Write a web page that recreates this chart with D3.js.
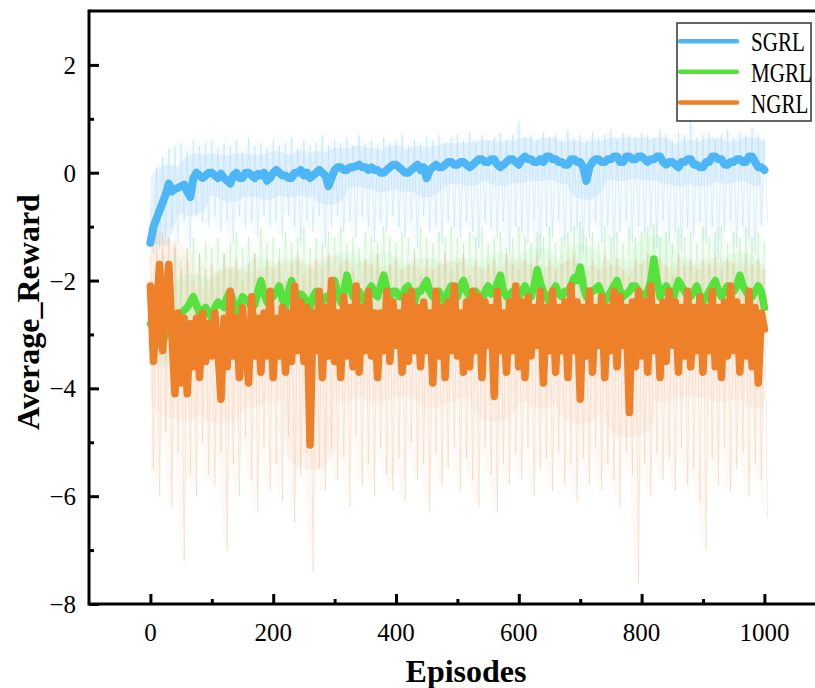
<!DOCTYPE html>
<html><head><meta charset="utf-8">
<script src="https://cdn.jsdelivr.net/npm/d3@7"></script>
<style>body{margin:0;background:#fff}</style>
</head><body>
<svg id="c" width="815" height="688"></svg>
<script>
const seriesNames = ["SGRL", "MGRL", "NGRL"];
const seriesColors = ["#4db6f6", "#55e23c", "#ee8029"];
const faintColors = ["#8fcdf3", "#8ee88a", "#eeae80"];
const smoothStep = 5;
const rawStep = 10;
const xTicks = [0, 200, 400, 600, 800, 1000];
const yTicks = [-8, -6, -4, -2, 0, 2];

// smoothed (thick) curves, one value every 5 episodes
const sgrl = [-1.3,-1.0,-0.85,-0.7,-0.55,-0.4,-0.2,-0.35,-0.3,-0.28,
  -0.25,-0.22,-0.35,-0.45,-0.1,0.0,-0.05,-0.1,-0.05,0.0,
  0.0,-0.05,-0.1,-0.02,-0.1,-0.15,-0.2,-0.05,0.0,-0.1,
  -0.1,0.0,0.0,-0.05,-0.1,-0.02,-0.05,0.0,-0.15,-0.1,
  0.0,0.05,0.0,-0.05,-0.05,-0.1,-0.1,0.0,0.0,0.05,
  -0.05,0.0,-0.1,-0.05,0.0,0.05,0.0,-0.05,-0.25,-0.1,
  0.05,0.1,0.1,0.05,0.05,0.1,0.1,0.12,0.15,0.1,
  0.1,0.05,0.1,0.05,0.05,0.0,0.0,0.05,0.1,0.15,
  0.15,0.1,0.05,0.0,0.0,0.05,0.1,0.15,0.05,0.1,
  -0.1,0.05,0.1,0.15,0.1,0.1,0.15,0.2,0.2,0.15,
  0.15,0.2,0.2,0.15,0.1,0.15,0.2,0.25,0.25,0.2,
  0.2,0.25,0.25,0.15,0.1,0.15,0.2,0.25,0.25,0.2,
  0.15,0.25,0.3,0.25,0.25,0.2,0.2,0.25,0.2,0.3,
  0.3,0.25,0.25,0.2,0.2,0.15,0.15,0.25,0.25,0.2,
  0.2,0.1,-0.15,0.1,0.2,0.25,0.25,0.2,0.2,0.25,
  0.25,0.3,0.3,0.2,0.2,0.3,0.3,0.25,0.25,0.3,
  0.3,0.25,0.2,0.25,0.25,0.3,0.3,0.2,0.15,0.2,
  0.2,0.15,0.1,0.2,0.2,0.25,0.25,0.15,0.15,0.1,
  0.1,0.2,0.2,0.3,0.3,0.25,0.25,0.15,0.15,0.2,
  0.2,0.25,0.25,0.2,0.2,0.3,0.3,0.2,0.1,0.1,
  0.05];
const mgrl = [-2.8,-2.9,-3.1,-3.2,-3.15,-3.0,-2.9,-2.8,-2.7,-2.65,
  -2.6,-2.55,-2.5,-2.4,-2.3,-2.45,-2.6,-2.55,-2.5,-2.6,
  -2.7,-2.5,-2.4,-2.45,-2.5,-2.3,-2.2,-2.4,-2.6,-2.45,
  -2.3,-2.35,-2.4,-2.5,-2.45,-2.2,-2.0,-2.25,-2.4,-2.3,
  -2.3,-2.2,-2.1,-2.35,-2.5,-2.2,-2.0,-2.3,-2.4,-2.25,
  -2.3,-2.4,-2.5,-2.3,-2.2,-2.35,-2.4,-2.3,-2.3,-2.2,
  -2.0,-2.25,-2.4,-2.2,-1.9,-2.15,-2.3,-2.2,-2.2,-2.35,
  -2.4,-2.2,-2.1,-2.25,-2.3,-2.1,-1.9,-2.15,-2.3,-2.2,
  -2.2,-2.3,-2.3,-2.15,-2.1,-2.3,-2.4,-2.2,-2.2,-2.1,
  -2.0,-2.2,-2.3,-2.25,-2.2,-2.35,-2.4,-2.2,-2.1,-2.25,
  -2.3,-2.1,-2.0,-2.2,-2.3,-2.25,-2.2,-2.3,-2.4,-2.2,
  -2.1,-2.25,-2.2,-2.05,-1.9,-2.2,-2.3,-2.25,-2.2,-2.3,
  -2.3,-2.2,-2.1,-2.25,-2.3,-2.1,-1.8,-2.05,-2.2,-2.3,
  -2.4,-2.2,-2.1,-2.25,-2.3,-2.2,-2.2,-2.1,-1.95,-2.0,
  -1.75,-2.1,-2.3,-2.2,-2.2,-2.15,-2.1,-2.25,-2.4,-2.3,
  -2.2,-2.1,-2.0,-2.2,-2.3,-2.25,-2.2,-2.1,-2.1,-2.2,
  -2.3,-2.25,-2.2,-2.0,-1.6,-2.0,-2.3,-2.2,-2.1,-2.2,
  -2.4,-2.2,-2.0,-2.1,-2.2,-2.3,-2.3,-2.2,-2.1,-2.3,
  -2.4,-2.3,-2.2,-2.1,-2.0,-2.2,-2.3,-2.2,-2.1,-2.15,
  -2.2,-2.1,-1.9,-2.1,-2.2,-2.3,-2.3,-2.2,-2.1,-2.2,
  -2.5];
const ngrl = [-2.1,-3.5,-2.5,-1.7,-3.3,-2.3,-1.7,-3.0,-4.1,-2.6,
  -3.9,-2.7,-4.1,-2.8,-3.6,-2.7,-3.8,-2.6,-3.5,-2.8,
  -3.4,-2.6,-3.3,-4.2,-2.7,-3.6,-2.2,-3.4,-2.7,-3.8,
  -2.5,-3.3,-3.9,-2.3,-3.4,-2.7,-3.7,-2.6,-3.4,-2.2,
  -3.8,-2.7,-3.4,-2.5,-3.7,-2.6,-3.5,-2.1,-3.3,-2.4,
  -3.5,-2.5,-5.05,-2.6,-3.3,-2.2,-3.8,-2.5,-3.4,-2.0,
  -3.5,-2.6,-3.8,-2.3,-3.4,-2.5,-3.6,-2.1,-3.7,-2.5,
  -3.3,-2.2,-3.4,-2.6,-3.8,-2.6,-3.3,-2.2,-3.5,-2.4,
  -3.2,-2.6,-3.7,-2.3,-3.5,-2.2,-3.3,-2.5,-3.6,-2.4,
  -3.3,-2.6,-3.9,-2.2,-3.4,-2.5,-3.8,-2.4,-3.3,-2.1,
  -3.4,-2.6,-3.7,-2.4,-3.6,-2.2,-3.3,-2.3,-3.8,-2.4,
  -3.2,-2.5,-4.15,-2.2,-3.3,-2.6,-3.7,-2.4,-3.3,-2.1,
  -3.6,-2.4,-3.8,-2.3,-3.4,-2.5,-3.2,-2.2,-3.9,-2.5,
  -3.3,-2.2,-3.7,-2.5,-3.3,-2.4,-3.8,-2.1,-3.3,-2.4,
  -4.2,-2.5,-3.4,-2.2,-3.7,-2.5,-3.2,-2.3,-3.8,-2.5,
  -3.3,-2.2,-3.6,-2.3,-3.2,-2.5,-4.45,-2.4,-3.6,-2.2,
  -3.4,-2.4,-3.7,-2.1,-3.3,-2.5,-3.8,-2.4,-3.5,-2.2,
  -3.2,-2.4,-3.7,-2.5,-3.4,-2.2,-3.6,-2.5,-3.3,-2.3,
  -3.7,-2.5,-3.3,-2.2,-3.6,-2.5,-3.8,-2.4,-3.4,-2.1,
  -3.3,-2.4,-3.7,-2.5,-3.4,-2.2,-3.6,-2.5,-3.9,-2.6,
  -2.9];

// raw episode spread (faint), upper and lower value every 10 episodes
const sgrlHi = [-0.7,0.1,0.3,0.45,0.5,0.55,0.4,0.6,0.5,0.55,
  0.6,0.45,0.55,0.5,0.6,0.4,0.65,0.5,0.55,0.45,
  0.6,0.5,0.55,0.65,0.45,0.6,0.5,0.55,0.7,0.5,
  0.6,0.55,0.65,0.5,0.7,0.55,0.6,0.5,0.65,0.55,
  0.6,0.7,0.5,0.6,0.55,0.65,0.6,0.7,0.55,0.65,
  0.7,0.6,0.75,0.55,0.7,0.6,0.65,0.75,0.6,0.7,
  0.95,0.65,0.7,0.6,0.75,0.65,0.7,0.6,0.8,0.65,
  0.7,0.6,0.75,0.65,0.7,0.8,0.6,0.75,0.7,0.65,
  0.75,0.7,0.65,0.8,0.7,0.6,0.75,0.7,0.95,0.65,
  0.7,0.75,0.6,0.7,0.8,0.65,0.75,0.7,0.85,0.7,0.6];
const sgrlLo = [-1.5,-1.4,-1.2,-1.0,-1.3,-0.9,-1.4,-0.8,-0.9,-1.0,
  -0.8,-1.1,-0.9,-1.3,-0.8,-1.0,-0.9,-1.2,-0.8,-1.0,
  -0.9,-1.2,-0.8,-1.0,-1.3,-0.9,-1.1,-0.8,-1.4,-1.0,
  -0.8,-1.1,-0.9,-1.2,-0.8,-1.0,-1.3,-0.9,-1.1,-0.8,
  -1.0,-1.2,-0.9,-1.4,-0.8,-1.1,-1.0,-1.3,-0.9,-1.0,
  -1.2,-0.9,-1.1,-1.4,-0.9,-1.0,-1.2,-0.9,-1.5,-1.0,
  -1.1,-1.3,-0.9,-1.6,-1.0,-1.2,-0.9,-1.4,-1.1,-1.0,
  -1.5,-1.2,-0.9,-1.3,-1.0,-1.6,-1.1,-0.9,-1.3,-1.0,
  -1.2,-1.0,-1.4,-0.9,-1.3,-1.1,-1.5,-1.0,-1.2,-0.9,
  -1.3,-1.0,-1.6,-1.1,-0.9,-1.4,-1.0,-1.2,-1.5,-1.0,-0.9];
const mgrlHi = [-2.6,-1.8,-1.5,-1.7,-1.3,-1.6,-1.4,-1.2,-1.5,-1.3,
  -1.4,-1.2,-1.5,-1.3,-1.1,-1.4,-1.2,-1.5,-1.0,-1.3,
  -1.2,-1.4,-1.1,-1.3,-1.2,-1.0,-1.4,-1.2,-1.3,-1.1,
  -1.2,-1.0,-1.3,-1.2,-1.4,-1.1,-1.2,-1.3,-1.0,-1.2,
  -1.3,-1.1,-1.2,-1.4,-1.0,-1.2,-1.3,-1.1,-1.2,-1.0,
  -1.2,-1.3,-1.1,-1.2,-1.0,-1.3,-1.2,-1.1,-1.4,-1.2,
  -1.0,-1.2,-1.3,-1.1,-1.2,-1.0,-1.3,-1.2,-1.1,-1.0,
  -0.9,-1.2,-1.1,-1.3,-1.0,-1.2,-1.1,-1.3,-1.0,-1.2,
  -1.1,-1.0,-0.95,-1.2,-1.1,-1.3,-1.0,-1.2,-1.1,-1.3,
  -1.0,-1.2,-1.1,-1.0,-1.3,-1.1,-1.2,-1.0,-1.2,-1.1,-1.3];
const mgrlLo = [-3.3,-3.4,-3.5,-3.2,-3.1,-3.3,-3.0,-2.9,-3.1,-3.0,
  -3.2,-2.9,-3.1,-2.8,-3.0,-3.2,-2.9,-3.0,-2.8,-3.1,
  -3.0,-2.8,-3.2,-2.9,-3.0,-3.1,-2.8,-3.0,-3.2,-2.9,
  -2.8,-3.1,-2.9,-3.0,-3.2,-2.8,-3.0,-2.9,-3.1,-2.8,
  -3.0,-3.2,-2.9,-2.8,-3.1,-3.0,-2.9,-3.2,-2.8,-3.0,
  -2.9,-3.1,-2.8,-3.0,-3.2,-2.9,-3.0,-2.8,-3.1,-2.9,
  -3.0,-2.8,-3.2,-2.9,-3.0,-3.1,-2.8,-3.0,-2.9,-3.2,
  -2.8,-3.0,-3.1,-2.9,-3.0,-2.8,-3.2,-2.9,-3.0,-3.1,
  -2.9,-3.0,-2.8,-3.2,-2.9,-3.0,-3.1,-2.8,-3.0,-2.9,
  -3.1,-2.8,-3.0,-3.2,-2.9,-3.0,-2.8,-3.1,-2.9,-3.0,-3.2];
const ngrlHi = [-1.5,-1.0,-1.1,-1.2,-1.4,-1.8,-1.6,-2.0,-1.5,-1.8,
  -1.7,-1.9,-1.5,-1.8,-1.6,-2.0,-1.7,-1.5,-1.9,-1.6,
  -1.8,-1.6,-2.0,-1.7,-1.5,-1.9,-1.7,-1.6,-1.8,-1.5,
  -1.9,-1.7,-1.6,-1.8,-2.0,-1.6,-1.7,-1.5,-1.9,-1.7,
  -1.6,-1.8,-1.7,-1.5,-1.9,-1.6,-1.8,-1.7,-1.5,-1.8,
  -1.7,-1.5,-1.9,-1.6,-1.8,-1.7,-1.6,-1.9,-1.5,-1.7,
  -1.8,-1.6,-1.7,-1.5,-1.9,-1.6,-1.8,-1.7,-1.6,-1.5,
  -1.7,-1.9,-1.6,-1.8,-1.5,-1.7,-1.6,-1.8,-1.9,-1.6,
  -1.7,-1.5,-1.8,-1.6,-1.7,-1.9,-1.5,-1.7,-1.6,-1.8,
  -1.6,-1.7,-1.5,-1.8,-1.6,-1.7,-1.9,-1.5,-1.7,-1.6,-1.8];
const ngrlLo = [-5.5,-6.0,-4.8,-6.2,-5.2,-7.2,-5.6,-6.0,-5.0,-5.6,
  -5.8,-5.2,-7.0,-5.4,-6.0,-4.9,-5.7,-6.3,-5.1,-5.9,
  -5.4,-6.1,-4.9,-6.5,-5.6,-5.2,-7.4,-5.5,-5.9,-5.1,
  -5.7,-5.3,-6.2,-4.9,-5.8,-5.4,-6.0,-5.1,-5.6,-5.9,
  -5.3,-6.1,-5.0,-5.7,-5.4,-6.3,-5.2,-5.8,-5.5,-5.1,
  -5.9,-5.3,-5.7,-6.2,-5.1,-5.6,-6.3,-5.4,-5.8,-5.2,
  -5.7,-5.1,-6.0,-5.5,-5.3,-5.9,-5.2,-5.8,-5.4,-6.1,
  -5.3,-5.8,-5.1,-5.9,-5.4,-5.7,-6.2,-5.2,-5.6,-7.6,
  -5.4,-6.0,-5.2,-5.7,-5.3,-5.9,-5.1,-5.8,-5.5,-6.1,
  -7.0,-5.3,-5.8,-5.1,-5.9,-5.5,-5.2,-6.0,-5.4,-5.7,-6.4];

const smooth = [sgrl, mgrl, ngrl];
const rawHi = [sgrlHi, mgrlHi, ngrlHi];
const rawLo = [sgrlLo, mgrlLo, ngrlLo];

const svg = d3.select("#c");
const x = d3.scaleLinear().domain([-100, 1100]).range([89, 825.8]);
const y = d3.scaleLinear().domain([-8, 3]).range([604, 11]);
const serif = "'Liberation Serif','Times New Roman',serif";
const smoothLine = d3.line().x((d, i) => x(i * smoothStep)).y(d => y(d));

svg.append("defs").append("clipPath").attr("id", "clipData").append("rect")
  .attr("x", x(0)).attr("y", y(3)).attr("width", x(1000) - x(0)).attr("height", y(-8) - y(3));

const plot = svg.append("g");
const haze = plot.append("g").attr("clip-path", "url(#clipData)");
// faint raw spread
const coreWidth = [38, 46, 50], coreOpacity = [0.2, 0.13, 0.1];
[0, 1, 2].forEach(s => {
  const pts = [];
  rawHi[s].forEach((v, i) => {
    pts.push([i * rawStep, v]);
    pts.push([i * rawStep + rawStep / 2, rawLo[s][i]]);
  });
  const area = d3.area().x((d, i) => x(i * rawStep)).y0((d, i) => y(rawLo[s][i])).y1(d => y(d));
  haze.append("path").attr("d", area(rawHi[s])).attr("fill", faintColors[s]).attr("opacity", 0.08);
  haze.append("path").attr("d", smoothLine(smooth[s])).attr("fill", "none")
    .attr("stroke", faintColors[s]).attr("stroke-width", coreWidth[s]).attr("opacity", coreOpacity[s])
    .attr("stroke-linejoin", "round");
  plot.append("path").attr("d", d3.line().x(d => x(d[0])).y(d => y(d[1]))(pts))
    .attr("fill", "none").attr("stroke", faintColors[s]).attr("stroke-width", 0.8).attr("opacity", 0.35);
});
// thick smoothed lines
const thick = [8, 7.5, 7.5];
[0, 1, 2].forEach(s => {
  plot.append("path").attr("d", smoothLine(smooth[s])).attr("fill", "none")
    .attr("stroke", seriesColors[s]).attr("stroke-width", thick[s])
    .attr("stroke-linejoin", "round").attr("stroke-linecap", "round");
});

// frame
const fr = svg.append("g").attr("stroke", "#000").attr("stroke-width", 3).attr("fill", "none");
fr.append("line").attr("x1", x(-100)).attr("x2", 830).attr("y1", y(3)).attr("y2", y(3));
fr.append("line").attr("x1", x(-100)).attr("x2", 830).attr("y1", y(-8)).attr("y2", y(-8));
fr.append("line").attr("x1", x(-100)).attr("x2", x(-100)).attr("y1", y(3) - 1.5).attr("y2", y(-8) + 1.5);

// x axis
const xAxis = d3.axisTop(x).tickValues(xTicks).tickSize(10).tickFormat("");
const xMinor = d3.axisTop(x).tickValues([100, 300, 500, 700, 900]).tickSize(5).tickFormat("");
[xAxis, xMinor].forEach(a => {
  const g = svg.append("g").attr("transform", `translate(0,${y(-8)})`).call(a);
  g.select(".domain").remove();
  g.selectAll("line").attr("stroke", "#000").attr("stroke-width", 3);
});
svg.append("g").selectAll("text").data(xTicks).join("text")
  .attr("x", d => x(d)).attr("y", 641).attr("text-anchor", "middle")
  .attr("font-family", serif).attr("font-size", 25).text(d => d);

// y axis
const yAxis = d3.axisRight(y).tickValues(yTicks).tickSize(10).tickFormat("");
const yMinor = d3.axisRight(y).tickValues([-7, -5, -3, -1, 1]).tickSize(5).tickFormat("");
[yAxis, yMinor].forEach(a => {
  const g = svg.append("g").attr("transform", `translate(${x(-100)},0)`).call(a);
  g.select(".domain").remove();
  g.selectAll("line").attr("stroke", "#000").attr("stroke-width", 3);
});
svg.append("g").selectAll("text").data(yTicks).join("text")
  .attr("x", 76).attr("y", d => y(d) + 9).attr("text-anchor", "end")
  .attr("font-family", serif).attr("font-size", 25)
  .text(d => d < 0 ? "\u2212" + Math.abs(d) : d);

// titles
svg.append("text").attr("x", 466).attr("y", 682).attr("text-anchor", "middle")
  .attr("font-family", serif).attr("font-weight", "bold").attr("font-size", 32).text("Episodes");
svg.append("text").attr("transform", "translate(39,312) rotate(-90)").attr("text-anchor", "middle")
  .attr("font-family", serif).attr("font-weight", "bold").attr("font-size", 32).text("Average_Reward");

// legend
const lg = svg.append("g");
lg.append("rect").attr("x", 677).attr("y", 23).attr("width", 134).attr("height", 98)
  .attr("fill", "#fff").attr("stroke", "#333").attr("stroke-width", 1.5);
const ly = [41.3, 71.7, 102.5];
seriesNames.forEach((n, i) => {
  lg.append("line").attr("x1", 680).attr("x2", 737).attr("y1", ly[i]).attr("y2", ly[i])
    .attr("stroke", seriesColors[i]).attr("stroke-width", 4.5).attr("stroke-linecap", "round");
  lg.append("text").attr("transform", `translate(751,${ly[i] + 10}) scale(0.78,1)`)
    .attr("font-family", serif).attr("font-size", 27).text(n);
});
</script>
</body></html>
